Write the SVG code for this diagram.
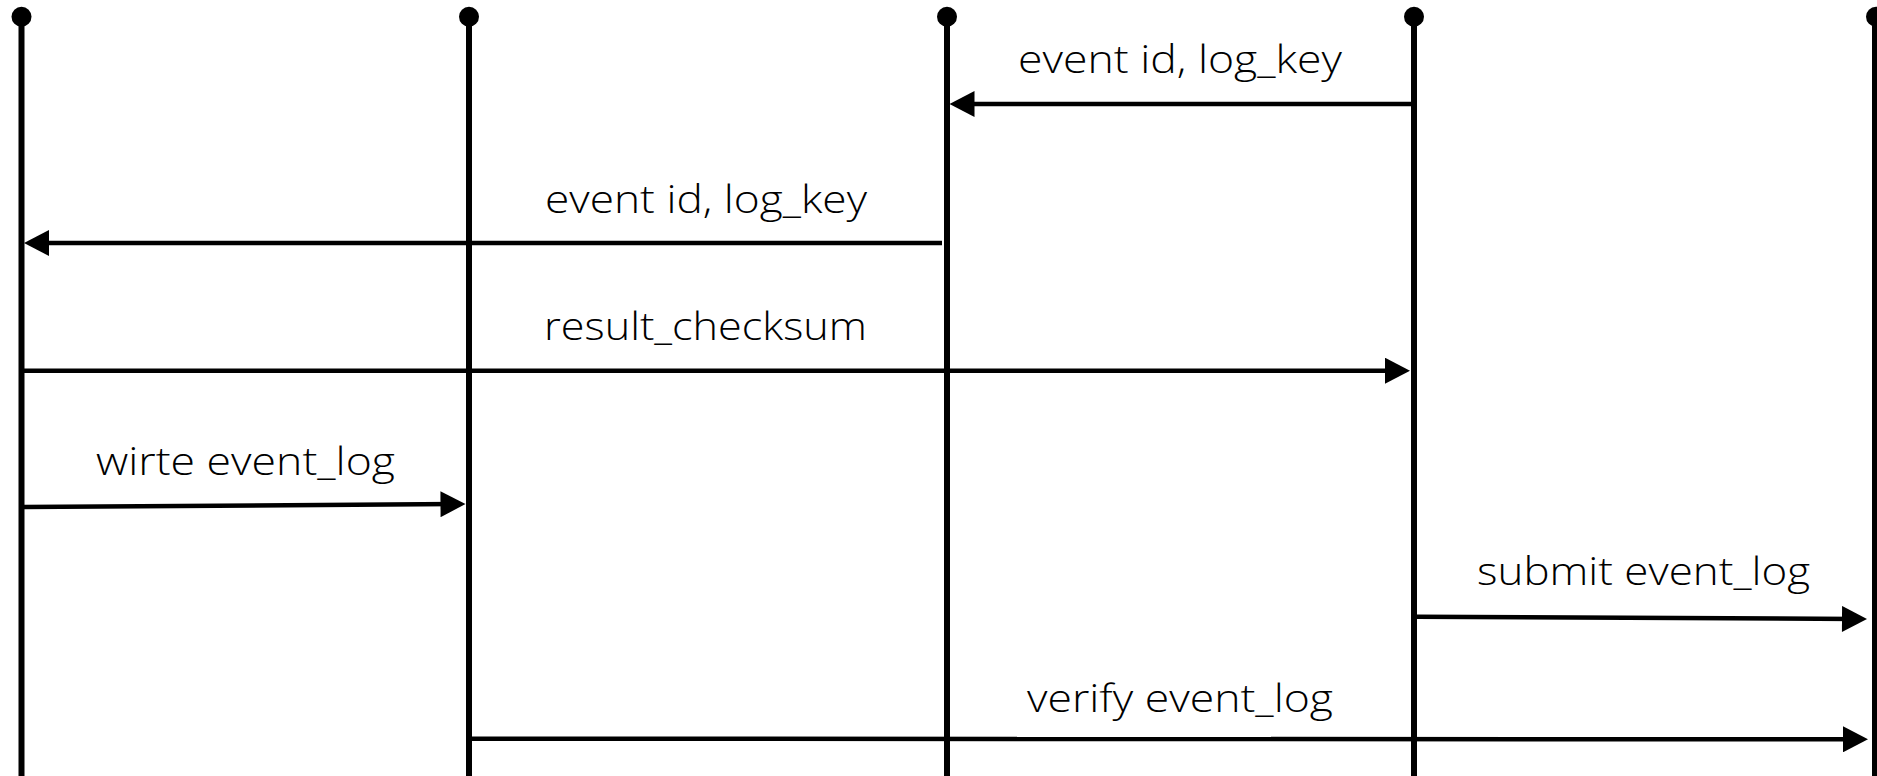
<svg xmlns="http://www.w3.org/2000/svg" width="1877" height="776" viewBox="0 0 1877 776">
  <style>
    .lane { stroke: #000; stroke-width: 6; fill: none; }
    .head { fill: #000; }
    .msg { stroke: #000; stroke-width: 4.5; fill: none; marker-end: url(#arrow); }
    .label { font-family: "Open Sans", "Lato", "Liberation Sans", sans-serif; font-weight: 300; font-size: 39px; fill: #000; }
  </style>
  <defs>
    <marker id="arrow" markerUnits="userSpaceOnUse" markerWidth="26" markerHeight="26" viewBox="0 0 25 26" refX="15" refY="13" orient="auto">
      <path d="M0,0 L25,13 L0,26 z" fill="#000"/>
    </marker>
  </defs>

  <!-- lifelines -->
  <g id="lifeline-1">
    <line class="lane" x1="21.5" y1="16.7" x2="21.5" y2="776"/>
    <circle class="head" cx="21.5" cy="16.7" r="10"/>
  </g>
  <g id="lifeline-2">
    <line class="lane" x1="469" y1="16.7" x2="469" y2="776"/>
    <circle class="head" cx="469" cy="16.7" r="10"/>
  </g>
  <g id="lifeline-3">
    <line class="lane" x1="947" y1="16.7" x2="947" y2="776"/>
    <circle class="head" cx="947" cy="16.7" r="10"/>
  </g>
  <g id="lifeline-4">
    <line class="lane" x1="1414" y1="16.7" x2="1414" y2="776"/>
    <circle class="head" cx="1414" cy="16.7" r="10"/>
  </g>
  <g id="lifeline-5">
    <line class="lane" x1="1875" y1="16.7" x2="1875" y2="776"/>
    <circle class="head" cx="1876" cy="16.7" r="10"/>
  </g>

  <!-- messages -->
  <g id="messages">
    <path class="msg" d="M1411,104 L959.5,104"/>
    <path class="msg" d="M942,243 L34,243"/>
    <path class="msg" d="M24,370.7 L1400,370.7"/>
    <path class="msg" d="M24,507 L455.5,504.1"/>
    <path class="msg" d="M1417,616.7 L1857,619"/>
    <path class="msg" d="M472,738.7 L1858,739.3"/>
  </g>

  <!-- message labels -->
  <g id="labels">
    <text class="label" x="1018" y="73" textLength="324" lengthAdjust="spacingAndGlyphs">event id, log_key</text>
    <text class="label" x="545" y="213" textLength="322" lengthAdjust="spacingAndGlyphs">event id, log_key</text>
    <text class="label" x="544" y="340" textLength="323" lengthAdjust="spacingAndGlyphs">result_checksum</text>
    <text class="label" x="96" y="475" textLength="299" lengthAdjust="spacingAndGlyphs">wirte event_log</text>
    <text class="label" x="1477" y="585" textLength="333" lengthAdjust="spacingAndGlyphs">submit event_log</text>
    <text class="label" x="1027" y="712" textLength="306" lengthAdjust="spacingAndGlyphs">verify event_log</text>
  </g>
</svg>
